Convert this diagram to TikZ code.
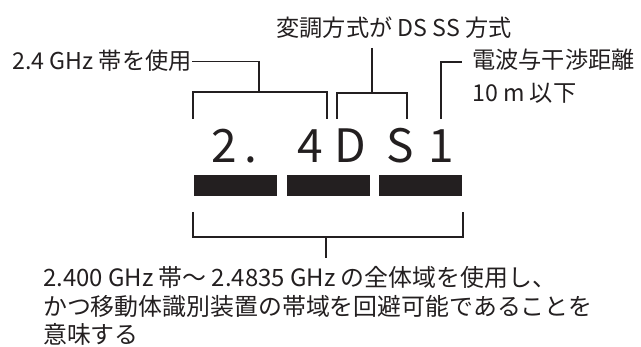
\documentclass[tikz,border=0pt]{standalone}
\usepackage{fontspec}
\setmainfont{Noto Sans CJK JP}
\definecolor{ink}{HTML}{231F20}

\begin{document}
\begin{tikzpicture}[x=1pt,y=-1pt,
  lbl/.style={inner sep=0pt,font=\fontsize{23.2}{26}\selectfont,text=ink},
  note/.style={lbl,font=\fontsize{23.9}{29}\selectfont,anchor=base west},
  code/.style={inner sep=0pt,font=\fontsize{46}{50}\selectfont,text=ink,anchor=base},
  lead/.style={draw=ink,line width=1.1pt},
  bar/.style={fill=ink}]
\useasboundingbox (0,0) rectangle (641,347);
% labels
\node[lbl,anchor=base east] (band) at (192,70) {2.4 GHz 帯を使用};
\node[lbl,anchor=base] (mod) at (394,37) {変調方式が DS SS 方式};
\node[lbl,anchor=base west] (dist) at (472,69) {電波与干渉距離};
\node[lbl,anchor=base west] (distb) at (472,102) {10 m 以下};
% code
\node[code] (c1) at (224,163) {2};
\node[code] (c2) at (251,163) {.};
\node[code] (c3) at (310,163) {4};
\node[code] (c4) at (350,163) {D};
\node[code] (c5) at (400,163) {S};
\node[code] (c6) at (441,163) {1};
\fill[bar] (194,175) rectangle (277,196);
\fill[bar] (287,175) rectangle (370,196);
\fill[bar] (379,175) rectangle (462,196);
% brackets
\coordinate (b1l) at (193,119);
\coordinate (b1r) at (327,119);
\coordinate (b1m) at (259,92);
\coordinate (b2l) at (337,119);
\coordinate (b2r) at (407,119);
\coordinate (b2m) at (372,48);
\coordinate (b3) at (441,119);
\coordinate (b3t) at (462,62);
\draw[lead] (b1l) -- ++(0,-27) -| (b1r);
\draw[lead] (band.east) -| (b1m);
\draw[lead] (b2l) -- ++(0,-26) -| (b2r);
\draw[lead] (b2m) -- ++(0,45);
\draw[lead] (b3) |- (b3t);
% bottom
\coordinate (b4l) at (193,212);
\coordinate (b4r) at (463,212);
\coordinate (b4m) at (326,258);
\draw[lead] (b4l) -- ++(0,25) -| (b4r);
\draw[lead] (b4m) -- ++(0,-21);
\node[note] (note1) at (43,287) {2.400 GHz 帯〜 2.4835 GHz の全体域を使用し、};
\node[note] (note2) at (43,316) {かつ移動体識別装置の帯域を回避可能であることを};
\node[note] (note3) at (43,344) {意味する};
\end{tikzpicture}
\end{document}
